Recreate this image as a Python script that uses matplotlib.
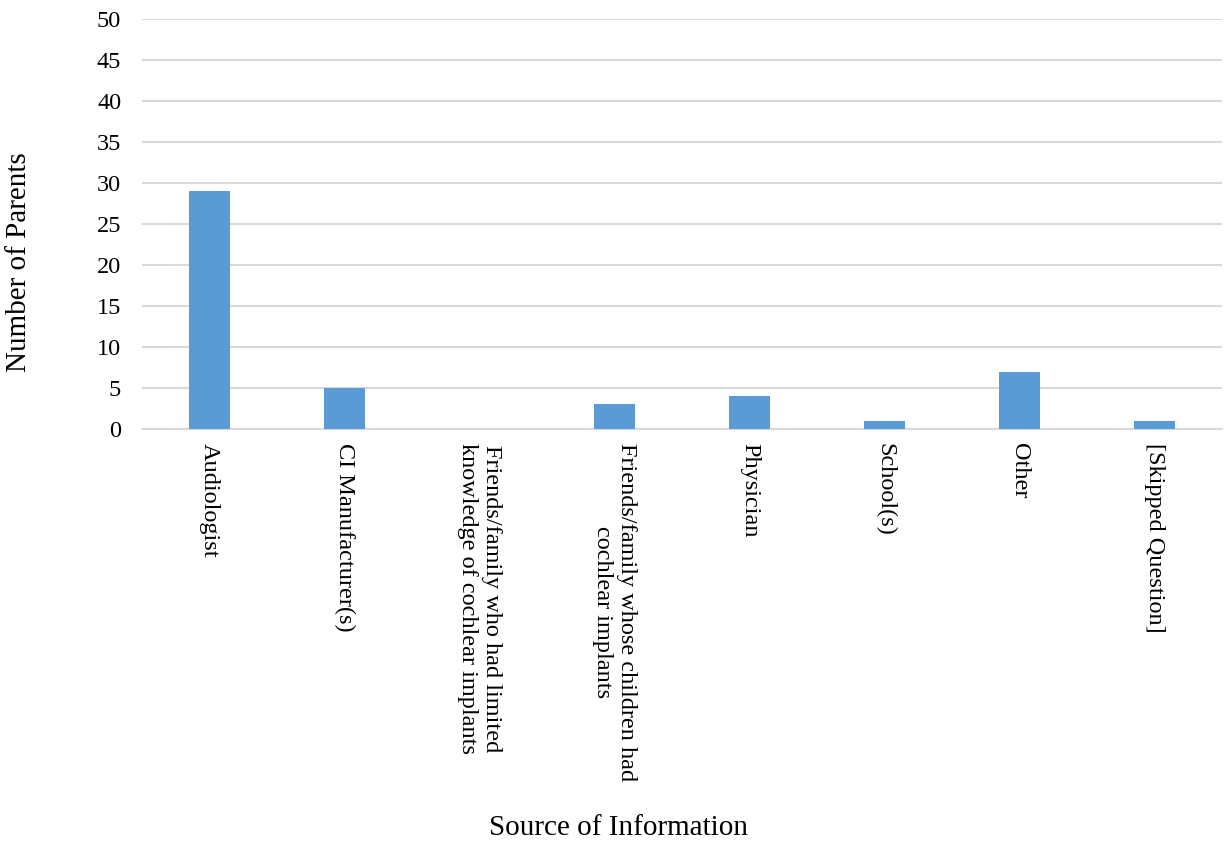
import matplotlib.pyplot as plt

plt.rcParams['font.family'] = ['Liberation Serif', 'DejaVu Serif']

sources = [
    'Audiologist',
    'CI Manufacturer(s)',
    'Friends/family who had limited\nknowledge of cochlear implants',
    'Friends/family whose children had\ncochlear implants',
    'Physician',
    'School(s)',
    'Other',
    '[Skipped Question]',
]
parents = [29, 5, 0, 3, 4, 1, 7, 1]

fig = plt.figure(figsize=(12.25, 8.44), dpi=100)
ax = fig.add_axes([142 / 1225, 1 - 429 / 844, 1080 / 1225, 410 / 844])

x = range(len(sources))
ax.bar(x, parents, width=0.31, color='#5b9bd5', zorder=3)

ax.set_xlim(-0.5, len(sources) - 0.5)
ax.set_ylim(0, 50)
ax.set_yticks(range(0, 51, 5))
ax.set_xticks(list(x))
ax.set_xticklabels(sources, rotation=270, ha='center', va='top',
                   multialignment='center', fontsize=17.5)
ax.tick_params(axis='y', labelsize=17.5, length=0, pad=15)
ax.tick_params(axis='x', length=0, pad=10)

ax.grid(axis='y', color='#d9d9d9', linewidth=1.5, zorder=0)
for side in ['top', 'right', 'left']:
    ax.spines[side].set_visible(False)
ax.spines['bottom'].set_color('#d9d9d9')
ax.spines['bottom'].set_linewidth(1.5)

fig.text(619 / 1225, 1 - 828 / 844, 'Source of Information',
         ha='center', va='center', fontsize=21)
fig.text(19 / 1225, 1 - 262 / 844, 'Number of Parents',
         ha='center', va='center', rotation=90, fontsize=21)

fig.savefig('out.png', dpi=100)
